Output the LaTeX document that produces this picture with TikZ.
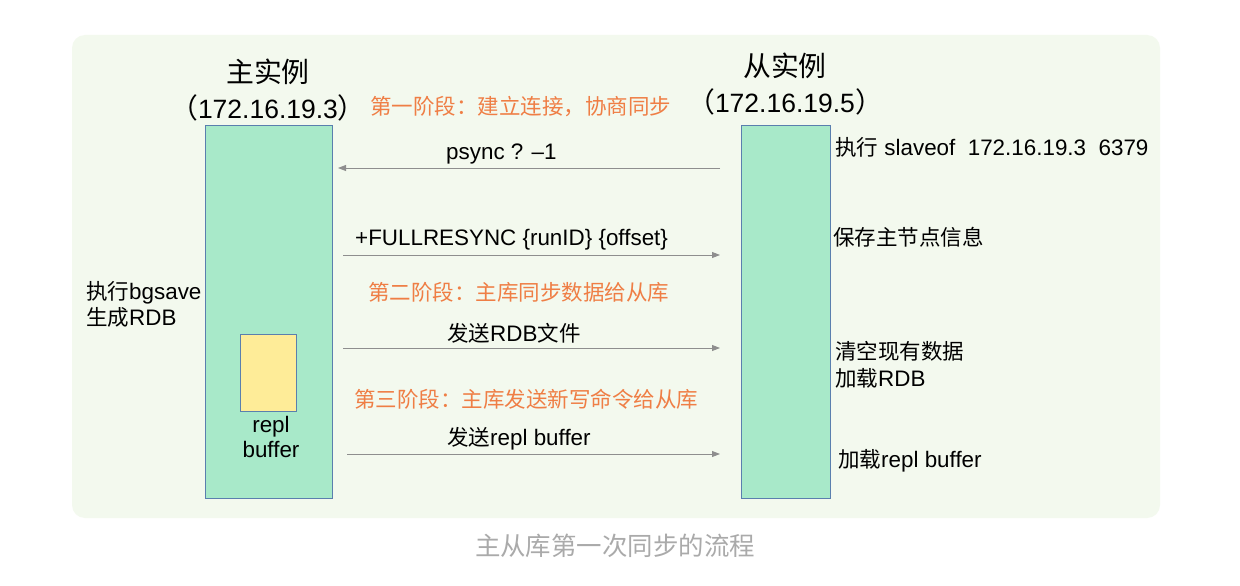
\documentclass[tikz,border=0pt]{standalone}
\usepackage{fontspec}
\setmainfont{Liberation Sans}
\newfontfamily\cjk[Scale=0.96]{Noto Sans CJK SC}
\usetikzlibrary{arrows.meta}
\definecolor{bgc}{HTML}{F3F9EE}
\definecolor{barfill}{HTML}{A8E9C9}
\definecolor{barline}{HTML}{5A7FAE}
\definecolor{bufill}{HTML}{FEEC98}
\definecolor{phase}{HTML}{EF7E45}
\definecolor{arrowc}{HTML}{8E8E8E}
\definecolor{capc}{HTML}{AAAAAA}
\newcommand{\ipfont}{\fontsize{26.5}{32}\selectfont}
\begin{document}
\begin{tikzpicture}[x=1pt,y=-1pt,
  bar/.style={draw=barline, line width=1pt, fill=barfill, inner sep=0pt, outer sep=0pt, anchor=north west},
  lbl/.style={inner sep=0pt, font=\fontsize{22.4}{26}\selectfont, anchor=base west},
  clbl/.style={lbl, anchor=base},
  title/.style={inner sep=0pt, font=\fontsize{29}{34}\selectfont, anchor=base},
  phaselbl/.style={lbl, text=phase},
  msg/.style={draw=arrowc, line width=0.9pt, -{Triangle[length=8pt,width=6pt]}}
]
\useasboundingbox (0,0) rectangle (1240,586);
\fill[white] (0,0) rectangle (1240,586);
\fill[bgc, rounded corners=13pt] (72,35) rectangle (1160,518);

% bars
\node[bar, minimum width=127pt, minimum height=373pt] (master) at (205,125) {};
\node[bar, minimum width=89pt, minimum height=373pt] (slave) at (741,125) {};
\node[draw=barline, line width=1pt, fill=bufill, inner sep=0pt, outer sep=0pt, anchor=north west, minimum width=56pt, minimum height=77pt] (buf) at (240,334) {};

% titles
\node[title] (mt1) at (268,82) {\cjk 主实例};
\node[title] (mt2) at (268,118) {\cjk（{\normalfont\ipfont 172.16.19.3}）};
\node[title] (st1) at (785,77) {\cjk 从实例};
\node[title] (st2) at (785,112) {\cjk（{\normalfont\ipfont 172.16.19.5}）};

% phases
\node[phaselbl] (p1) at (370,114) {\cjk 第一阶段：建立连接，协商同步};
\node[phaselbl] (p2) at (368,300) {\cjk 第二阶段：主库同步数据给从库};
\node[phaselbl] (p3) at (354,407) {\cjk 第三阶段：主库发送新写命令给从库};

% messages
\coordinate (a1s) at (720,168);
\coordinate (a1e) at (338,168);
\draw[msg] (a1s) -- (a1e);
\node[lbl] (m1) at (446,159) {psync ? –1};

\coordinate (a2s) at (343,255);
\coordinate (a2e) at (720,255);
\draw[msg] (a2s) -- (a2e);
\node[lbl] (m2) at (355,245) {+FULLRESYNC \{runID\} \{offset\}};

\coordinate (a3s) at (343,348);
\coordinate (a3e) at (720,348);
\draw[msg] (a3s) -- (a3e);
\node[lbl] (m3) at (447,341) {{\cjk 发送}RDB{\cjk 文件}};

\coordinate (a4s) at (347,454);
\coordinate (a4e) at (720,454);
\draw[msg] (a4s) -- (a4e);
\node[lbl] (m4) at (447,445) {{\cjk 发送}repl buffer};

% slave side labels
\node[lbl] (s1) at (835,155) {{\cjk 执行} slaveof \ 172.16.19.3 \ 6379};
\node[lbl] (s2) at (833,245) {\cjk 保存主节点信息};
\node[lbl] (s3) at (835,359) {\cjk 清空现有数据};
\node[lbl] (s4) at (835,386) {{\cjk 加载}RDB};
\node[lbl] (s5) at (838,467) {{\cjk 加载}repl buffer};

% master side labels
\node[lbl] (l1) at (86,299) {{\cjk 执行}bgsave};
\node[lbl] (l2) at (86,325) {{\cjk 生成}RDB};
\node[clbl] (r1) at (271,432) {repl};
\node[clbl] (r2) at (271,457) {buffer};

% caption
\node[inner sep=0pt, anchor=base, text=capc, font=\fontsize{26.5}{30}\selectfont] (cap) at (615,555) {\cjk 主从库第一次同步的流程};
\end{tikzpicture}
\end{document}
